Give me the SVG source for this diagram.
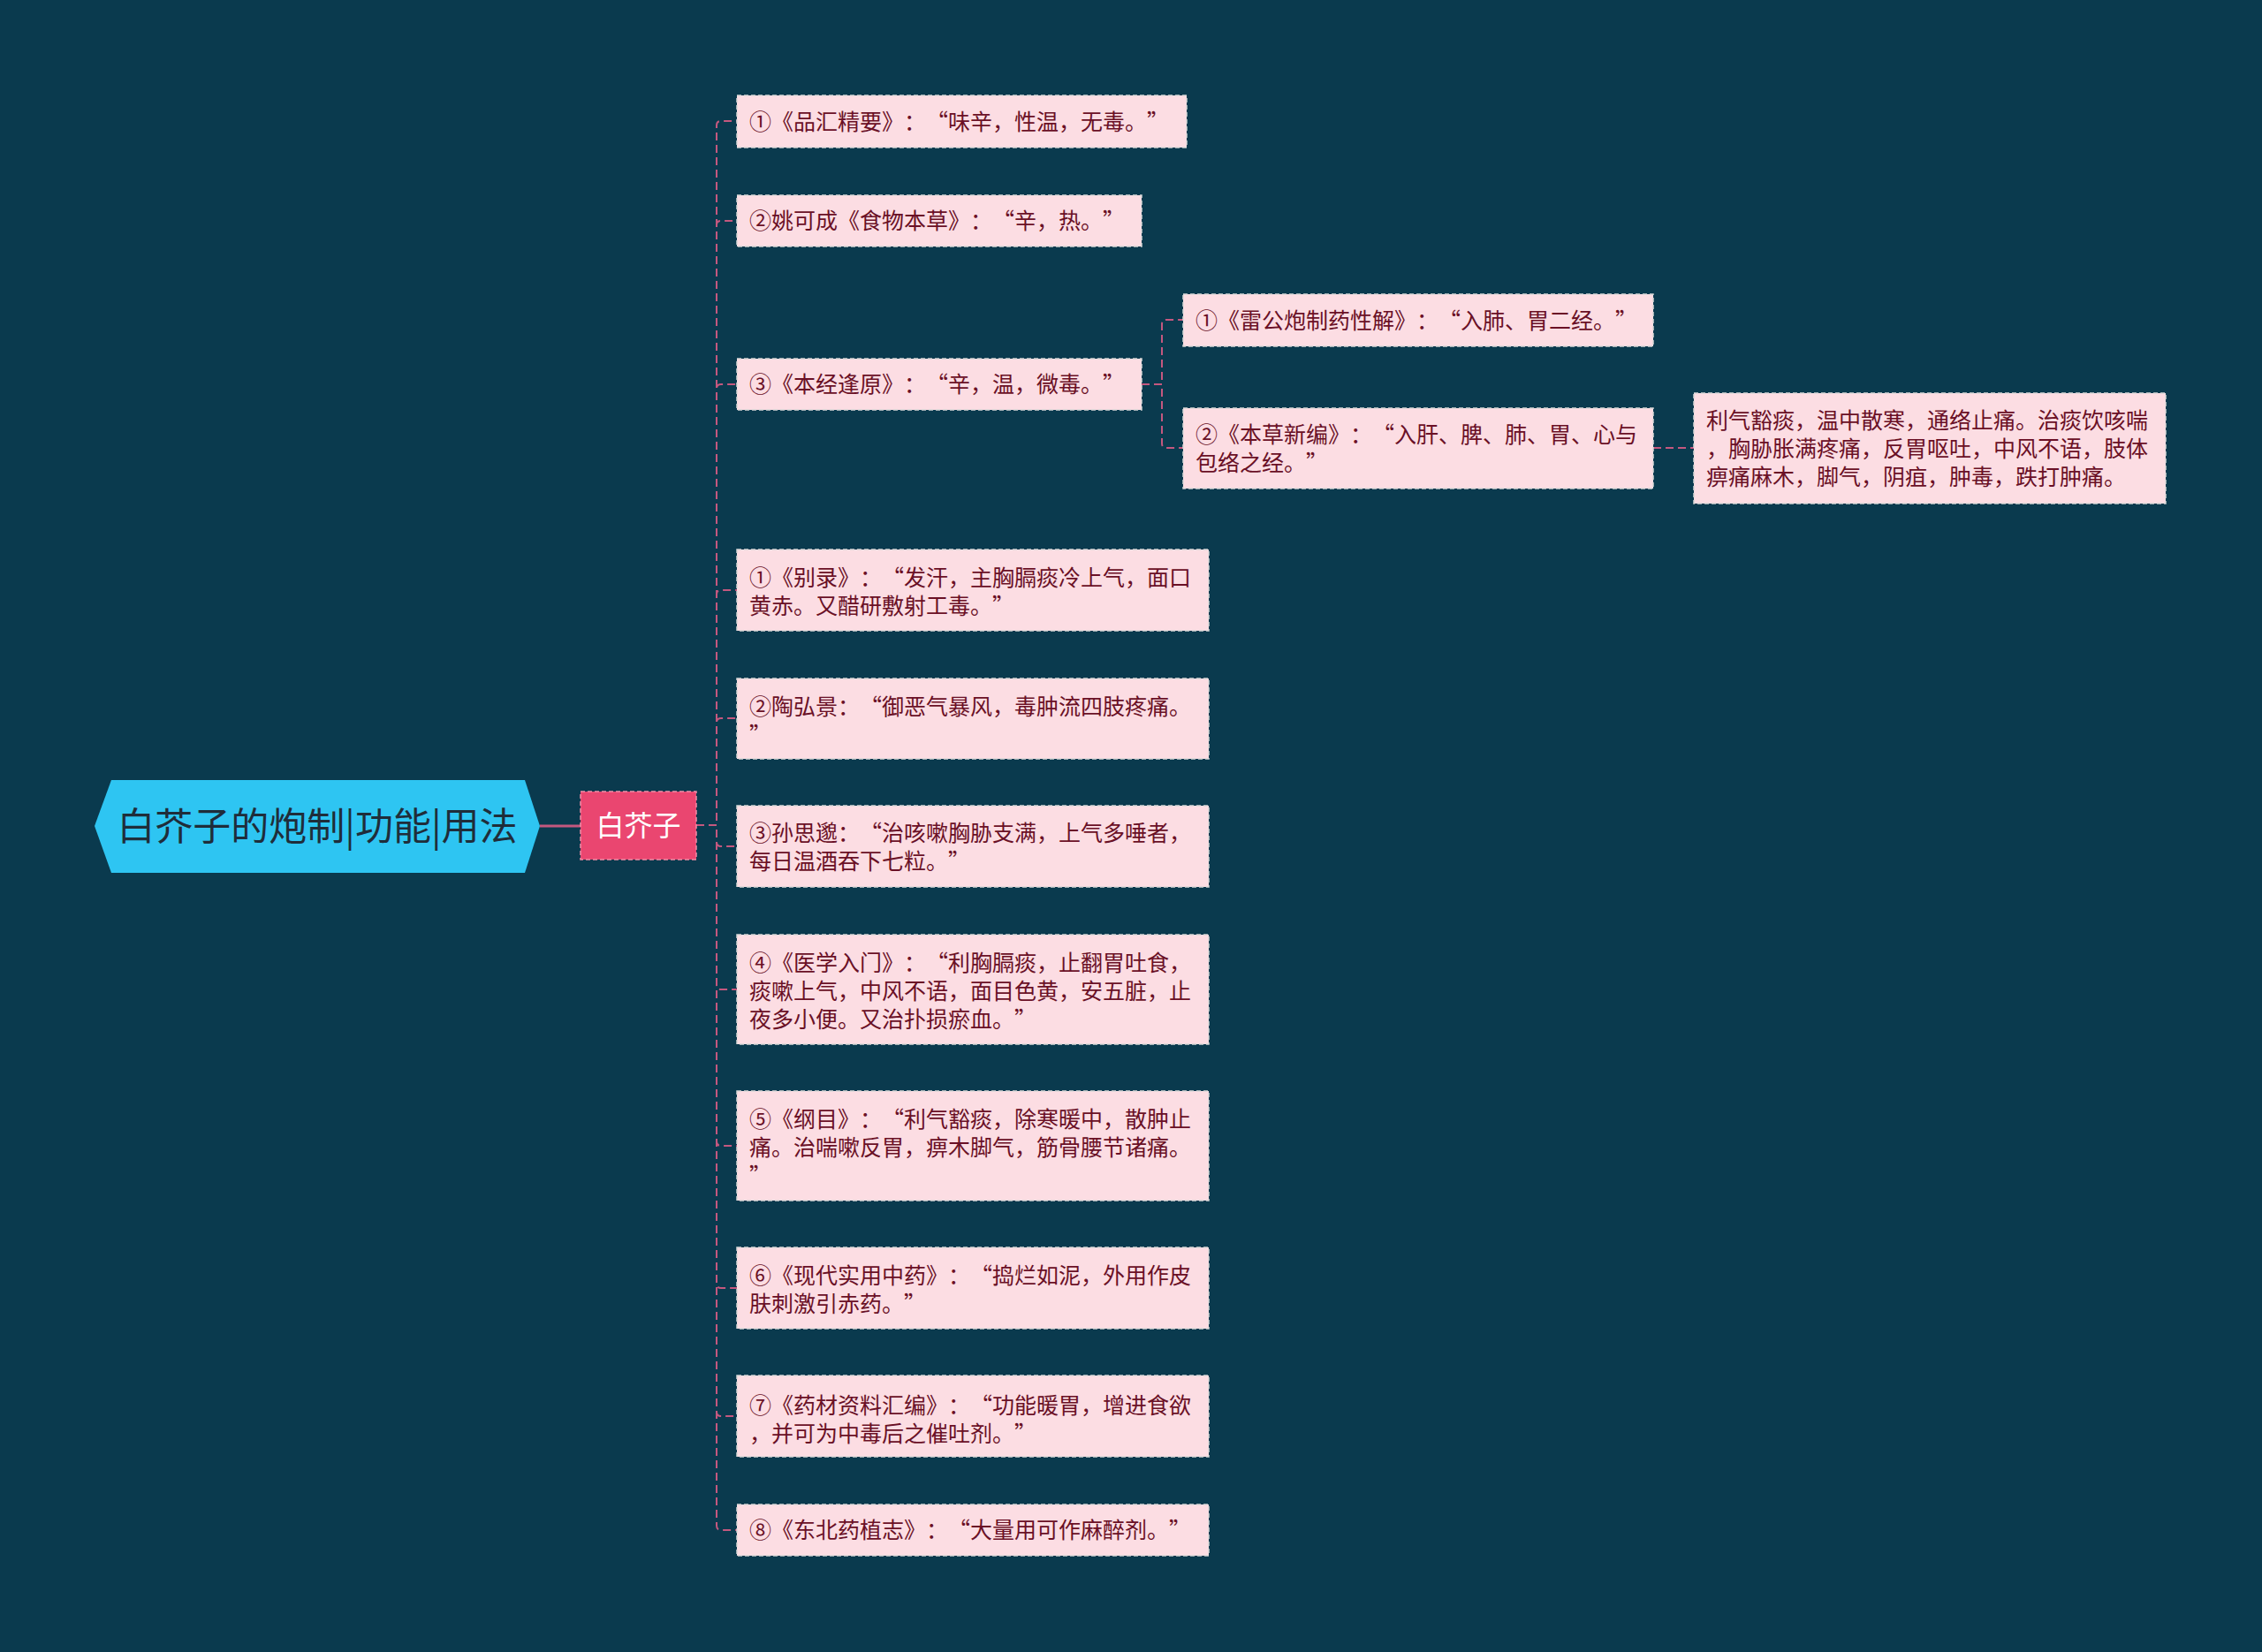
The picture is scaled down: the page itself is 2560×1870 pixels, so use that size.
<svg xmlns="http://www.w3.org/2000/svg" width="2560" height="1870" viewBox="0 0 2560 1870">
<style>
.bg{fill:#0a3a4e}
.box{fill:#fcdde3;stroke:#d8d8d8;stroke-width:1.5;stroke-dasharray:5 3}
.t{font-family:"Noto Sans CJK SC","Noto Sans",sans-serif;font-size:25px;fill:#6a1026;font-feature-settings:"fwid" 1;text-spacing-trim:space-all}
.c{fill:none;stroke:#c4587f;stroke-width:2;stroke-dasharray:9 5}
</style>
<rect class="bg" x="0" y="0" width="2560" height="1870"/>
<g id="connectors">
<line x1="611" y1="935" x2="657" y2="935" stroke="#c4587f" stroke-width="3"/>
<path class="c" d="M788 934 H811 V142 Q811 137 816 137 H834"/>
<path class="c" d="M788 934 H811 V255 Q811 250 816 250 H834"/>
<path class="c" d="M788 934 H811 V440 Q811 435 816 435 H834"/>
<path class="c" d="M788 934 H811 V673 Q811 668 816 668 H834"/>
<path class="c" d="M788 934 H811 V818 Q811 813 816 813 H834"/>
<path class="c" d="M788 934 H811 V953 Q811 958 816 958 H834"/>
<path class="c" d="M788 934 H811 V1115 Q811 1120 816 1120 H834"/>
<path class="c" d="M788 934 H811 V1292 Q811 1297 816 1297 H834"/>
<path class="c" d="M788 934 H811 V1453 Q811 1458 816 1458 H834"/>
<path class="c" d="M788 934 H811 V1598 Q811 1603 816 1603 H834"/>
<path class="c" d="M788 934 H811 V1727 Q811 1732 816 1732 H834"/>
<path class="c" d="M1292 435 H1315 V367 Q1315 362 1320 362 H1339"/>
<path class="c" d="M1292 435 H1315 V502 Q1315 507 1320 507 H1339"/>
<path class="c" d="M1871 507 H1917"/>
</g>
<g id="root">
<polygon points="107,935 126,883 594,883 611,935 594,988 126,988" fill="#2ec5f2"/>
<text x="359" y="951" text-anchor="middle" font-family="&quot;Noto Sans CJK SC&quot;,sans-serif" font-size="43" fill="#1f2d3a">白芥子的炮制|功能|用法</text>
</g>
<g id="main">
<rect x="657" y="896" width="131" height="77" fill="#ea4670" stroke="#f28fa8" stroke-width="1.5" stroke-dasharray="5 3"/>
<text x="722.5" y="946" text-anchor="middle" font-family="&quot;Noto Sans CJK SC&quot;,sans-serif" font-size="32" fill="#ffffff">白芥子</text>
</g>
<g id="a1"><rect class="box" x="834" y="108" width="509" height="59"/><text class="t" x="848" y="147">①《品汇精要》：“味辛，性温，无毒。”</text></g>
<g id="a2"><rect class="box" x="834" y="221" width="458" height="58"/><text class="t" x="848" y="259">②姚可成《食物本草》：“辛，热。”</text></g>
<g id="a3"><rect class="box" x="834" y="406" width="458" height="58"/><text class="t" x="848" y="444">③《本经逢原》：“辛，温，微毒。”</text></g>
<g id="a3s1"><rect class="box" x="1339" y="333" width="532" height="59"/><text class="t" x="1353" y="372">①《雷公炮制药性解》：“入肺、胃二经。”</text></g>
<g id="a3s2"><rect class="box" x="1339" y="462" width="532" height="91"/><text class="t" x="1353" y="501">②《本草新编》：“入肝、脾、肺、胃、心与<tspan x="1353" y="533">包络之经。”</tspan></text></g>
<g id="leaf"><rect class="box" x="1917" y="445" width="534" height="125"/><text class="t" x="1931" y="485">利气豁痰，温中散寒，通络止痛。治痰饮咳喘<tspan x="1931" y="517">，胸胁胀满疼痛，反胃呕吐，中风不语，肢体</tspan><tspan x="1931" y="549">痹痛麻木，脚气，阴疽，肿毒，跌打肿痛。</tspan></text></g>
<g id="b1"><rect class="box" x="834" y="622" width="534" height="92"/><text class="t" x="848" y="663">①《别录》：“发汗，主胸膈痰冷上气，面口<tspan x="848" y="695">黄赤。又醋研敷射工毒。”</tspan></text></g>
<g id="b2"><rect class="box" x="834" y="768" width="534" height="91"/><text class="t" x="848" y="809">②陶弘景：“御恶气暴风，毒肿流四肢疼痛。<tspan x="848" y="841">”</tspan></text></g>
<g id="b3"><rect class="box" x="834" y="912" width="534" height="92"/><text class="t" x="848" y="952">③孙思邈：“治咳嗽胸胁支满，上气多唾者，<tspan x="848" y="984">每日温酒吞下七粒。”</tspan></text></g>
<g id="b4"><rect class="box" x="834" y="1058" width="534" height="124"/><text class="t" x="848" y="1099">④《医学入门》：“利胸膈痰，止翻胃吐食，<tspan x="848" y="1131">痰嗽上气，中风不语，面目色黄，安五脏，止</tspan><tspan x="848" y="1163">夜多小便。又治扑损瘀血。”</tspan></text></g>
<g id="b5"><rect class="box" x="834" y="1235" width="534" height="124"/><text class="t" x="848" y="1276">⑤《纲目》：“利气豁痰，除寒暖中，散肿止<tspan x="848" y="1308">痛。治喘嗽反胃，痹木脚气，筋骨腰节诸痛。</tspan><tspan x="848" y="1340">”</tspan></text></g>
<g id="b6"><rect class="box" x="834" y="1412" width="534" height="92"/><text class="t" x="848" y="1453">⑥《现代实用中药》：“捣烂如泥，外用作皮<tspan x="848" y="1485">肤刺激引赤药。”</tspan></text></g>
<g id="b7"><rect class="box" x="834" y="1557" width="534" height="92"/><text class="t" x="848" y="1600">⑦《药材资料汇编》：“功能暖胃，增进食欲<tspan x="848" y="1632">，并可为中毒后之催吐剂。”</tspan></text></g>
<g id="b8"><rect class="box" x="834" y="1703" width="534" height="58"/><text class="t" x="848" y="1741">⑧《东北药植志》：“大量用可作麻醉剂。”</text></g>
</svg>
